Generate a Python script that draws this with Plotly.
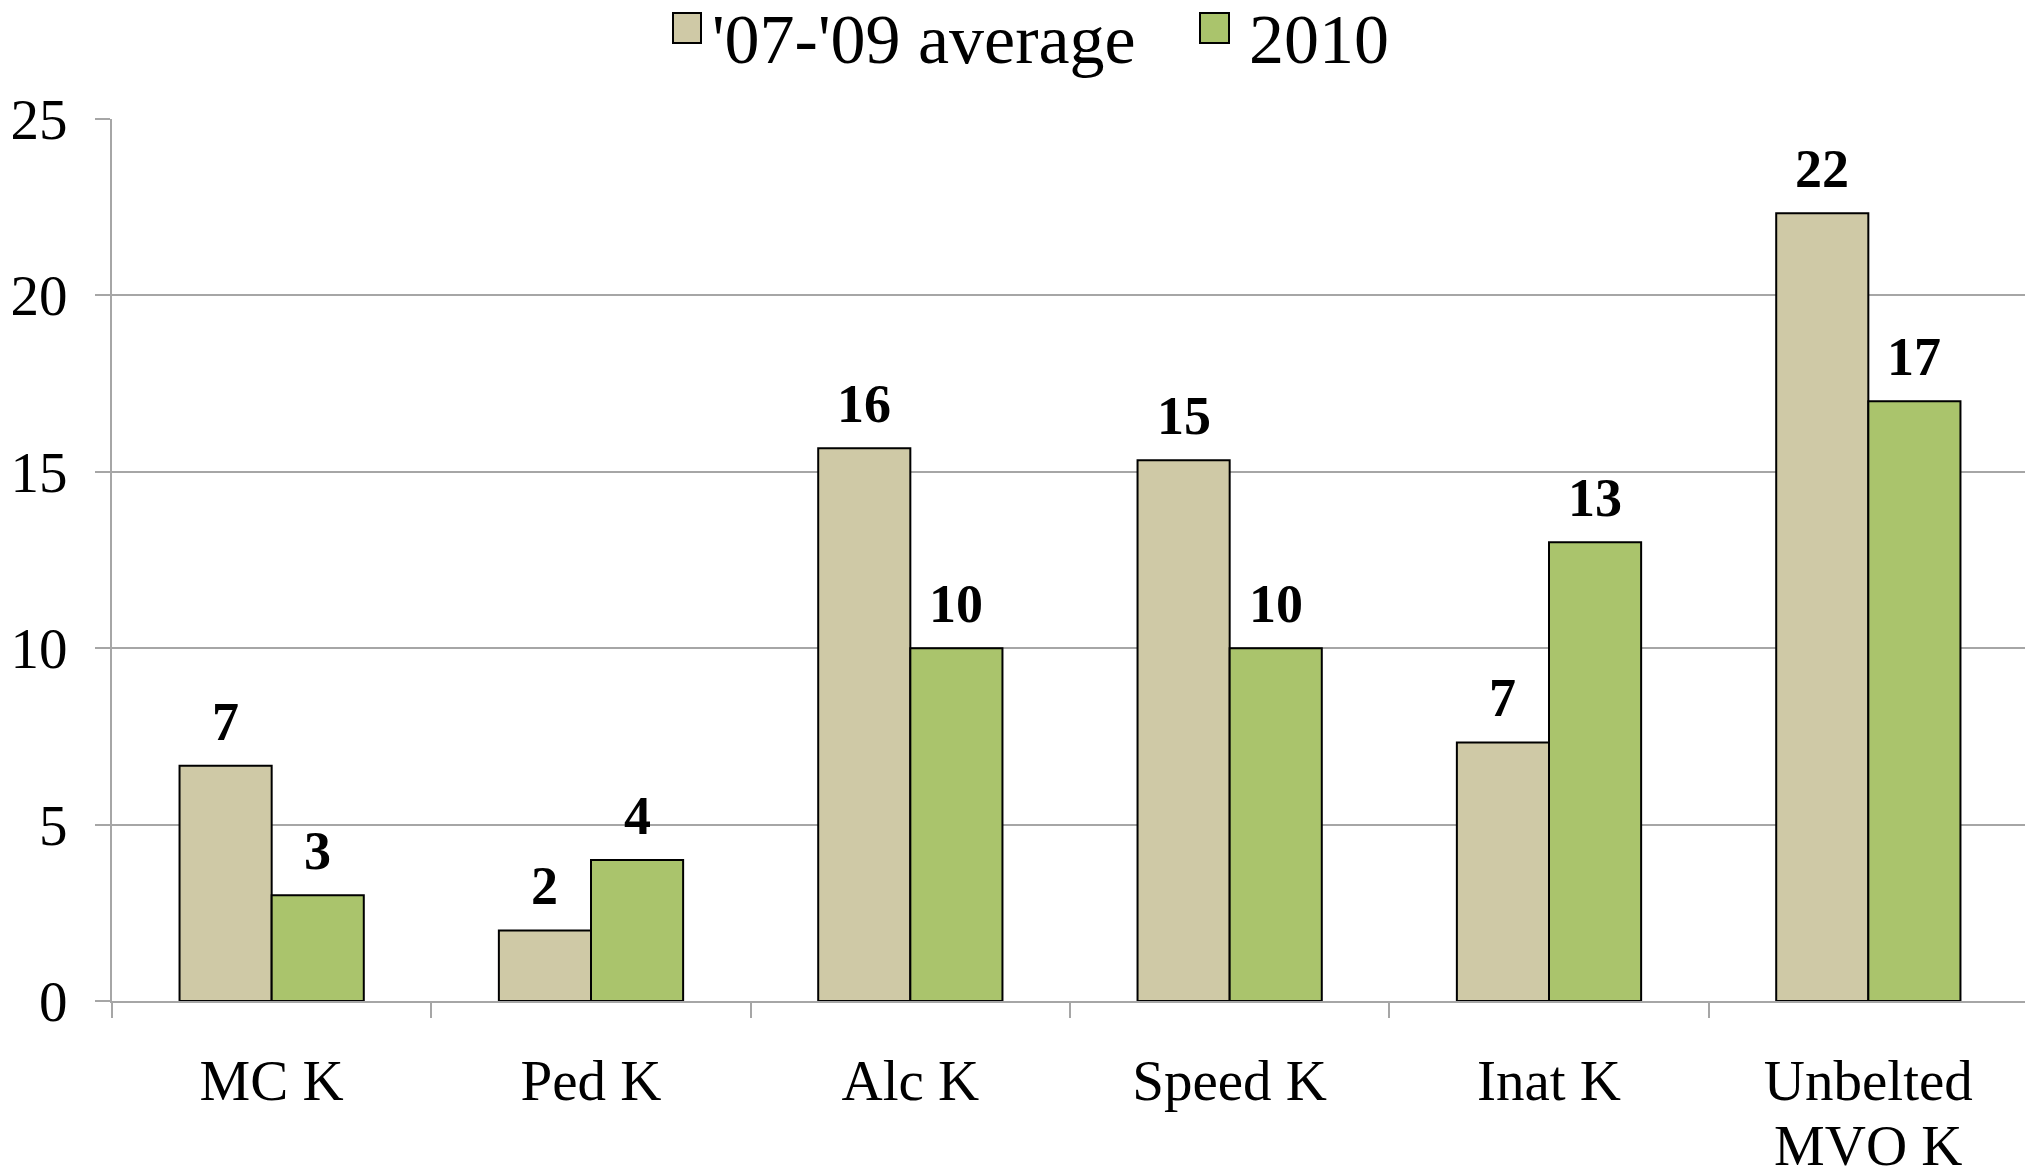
import plotly.graph_objects as go

categories = ["MC K", "Ped K", "Alc K", "Speed K", "Inat K", "Unbelted<br>MVO K"]
avg_07_09 = [6.67, 2.0, 15.67, 15.33, 7.33, 22.33]
y2010 = [3, 4, 10, 10, 13, 17]
series_names = ["'07-'09 average", "2010"]
colors = ["#CFC9A6", "#AAC46C"]
y_ticks = [0, 5, 10, 15, 20, 25]

FONT = "Liberation Serif, Times New Roman, serif"
W, H = 2033, 1176
OFF = 8  # default page body margin
ML, MR, MT, MB = 104, 13, 111, 183
PW = W - ML - MR
PH = H - MT - MB
GRID = "#A6A6A6"
XLAB_SIZE = 57


def styled(label):
    # wrap each line so glyphs are larger than the axis font (tighter line spacing)
    return "<br>".join(f'<span style="font-size:{XLAB_SIZE}px">{ln}</span>'
                       for ln in label.split("<br>"))


xcats = [styled(c) for c in categories]

fig = go.Figure()
for name, vals, col in zip(series_names, [avg_07_09, y2010], colors):
    fig.add_trace(go.Bar(
        x=xcats, y=vals, name=name,
        marker=dict(color=col, line=dict(color="black", width=2)),
        showlegend=False,
    ))

# data labels
bar_off = 0.1445 * PW / len(categories)
for k, vals in enumerate([avg_07_09, y2010]):
    sh = -bar_off if k == 0 else bar_off
    for c, v in zip(xcats, vals):
        fig.add_annotation(x=c, y=v, xref="x", yref="y", text=f"{round(v)}",
                           showarrow=False, xshift=sh, yshift=12, yanchor="bottom",
                           font=dict(family=FONT, size=54, color="black", weight="bold"))

# custom legend (positions given in page pixels)
def px2paper_x(p):
    return (p - OFF - ML) / PW

def px2paper_y(p):
    return (H - MB - (p - OFF)) / PH

leg = [(673, 701, 710), (1200, 1229, 1247)]
for (x0, x1, tx), name, col in zip(leg, series_names, colors):
    fig.add_shape(type="rect", xref="paper", yref="paper",
                  x0=px2paper_x(x0), x1=px2paper_x(x1),
                  y0=px2paper_y(43), y1=px2paper_y(13),
                  fillcolor=col, line=dict(color="black", width=2))
    fig.add_annotation(x=px2paper_x(tx), y=px2paper_y(39.5), xref="paper", yref="paper",
                       text=name, showarrow=False, xanchor="left", yanchor="middle",
                       font=dict(family=FONT, size=70, color="black"))

fig.update_layout(
    width=W, height=H,
    margin=dict(l=ML, r=MR, t=MT, b=MB, pad=0, autoexpand=False),
    paper_bgcolor="white", plot_bgcolor="white",
    barmode="group", bargap=0.423, bargroupgap=0,
    font=dict(family=FONT, color="black"),
)
fig.update_xaxes(
    type="category", tickson="boundaries", ticks="outside", ticklen=15,
    tickwidth=2, tickcolor=GRID, showline=True, linecolor=GRID, linewidth=2,
    showgrid=False, tickfont=dict(family=FONT, size=50, color="black"),
    ticklabelstandoff=37, automargin=False,
)
fig.update_yaxes(
    range=[0, 25], tickvals=y_ticks, ticks="outside", ticklen=15, tickwidth=2,
    tickcolor=GRID, showline=True, linecolor=GRID, linewidth=2,
    showgrid=True, gridcolor=GRID, gridwidth=2, zeroline=False,
    tickfont=dict(family=FONT, size=57, color="black"), ticklabelstandoff=16,
    automargin=False,
)

fig.write_html("out.html")
